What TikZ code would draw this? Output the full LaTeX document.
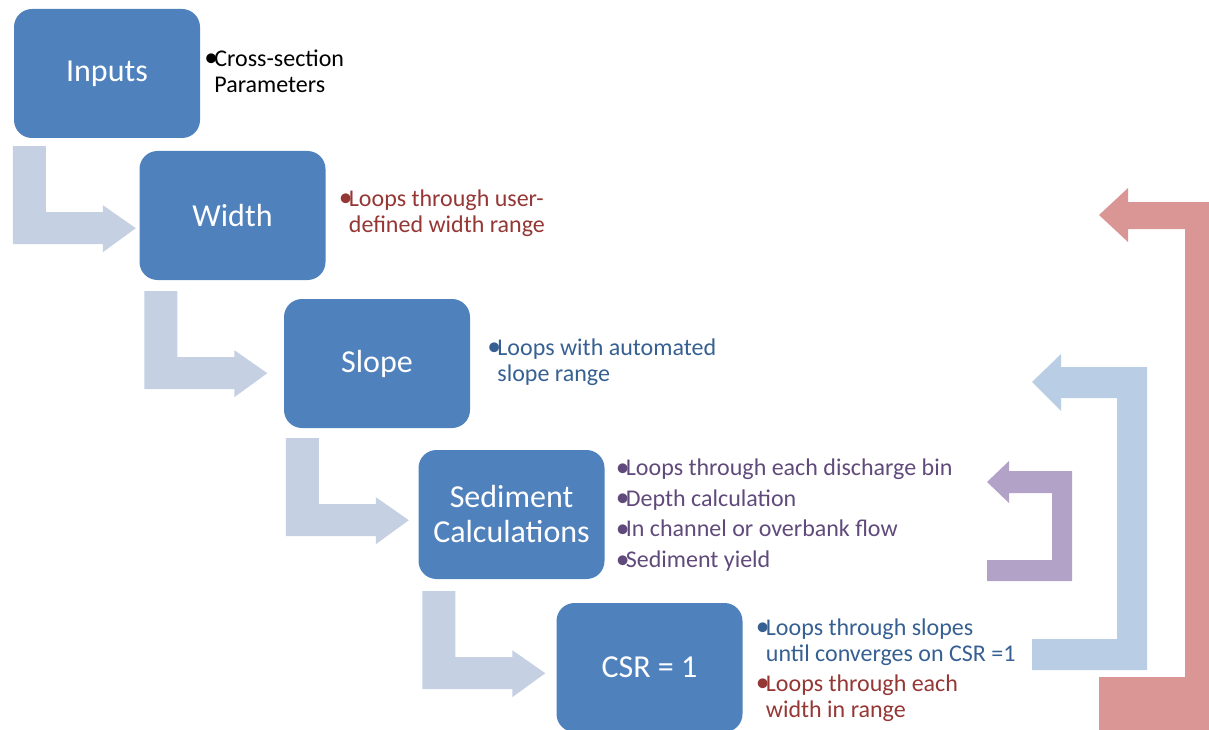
\documentclass[tikz,border=0pt]{standalone}
\usepackage{fontspec}
\setmainfont{Carlito}
\usetikzlibrary{calc}

\definecolor{boxblue}{HTML}{4F81BD}
\definecolor{elbowgray}{HTML}{C5D0E3}
\definecolor{loopblue}{HTML}{B9CDE5}
\definecolor{looppurple}{HTML}{B3A2C7}
\definecolor{loopred}{HTML}{D99694}
\definecolor{notered}{HTML}{953735}
\definecolor{noteblue}{HTML}{376092}
\definecolor{notepurple}{HTML}{604A7B}

\newcommand{\bul}{\makebox[10pt][l]{\raisebox{-0.7pt}{\scalebox{1.15}{\textbullet}}}}
\newcommand{\ind}{\hspace*{10pt}}
% bent arrow from the lower left corner of one stage to the next stage
\newcommand{\stagearrow}[1]{\fill[elbow] (#1) -- ++(33,0) -- ++(0,66) -- ++(57,0) -- ++(0,-7)
  -- ++(33,23) -- ++(-33,24) -- ++(0,-8) -- ++(-90,0) -- cycle;}

\begin{document}
\begin{tikzpicture}[x=1pt,y=-1pt,
    stage/.style={rectangle, rounded corners=18pt, fill=boxblue, text=white,
      minimum width=186pt, minimum height=129pt, inner sep=0pt, align=center,
      font=\fontsize{32}{35}\selectfont},
    note/.style={anchor=west, align=left, inner sep=0pt, font=\fontsize{24}{26}\selectfont},
    elbow/.style={fill=elbowgray}]
  \clip (0,0) rectangle (1209,730);

  \node (inputs) [stage] at (107,73.5) {Inputs};
  \node (width) [stage] at (232.5,215.5) {Width};
  \node (slope) [stage] at (377,363.5) {Slope};
  \node (sediment) [stage] at (511.5,514.5) {Sediment\\Calculations};
  \node (csr) [stage] at (649.5,667.5) {CSR = 1};

  \stagearrow{[shift={(-1,8)}]inputs.south west}
  \stagearrow{[shift={(5,11)}]width.south west}
  \stagearrow{[shift={(2,10)}]slope.south west}
  \stagearrow{[shift={(4,12)}]sediment.south west}

  \node (inputsnote) [note, text=black] at ([shift={(4,-2.5)}]inputs.east)
    {\bul Cross-section\\\ind Parameters};
  \node (widthnote) [note, text=notered] at ([shift={(13,-2.5)}]width.east)
    {\bul Loops through user-\\\ind defined width range};
  \node (slopenote) [note, text=noteblue] at ([shift={(17,-1.5)}]slope.east)
    {\bul Loops with automated\\\ind slope range};
  \node (sedimentnote) [note, text=notepurple, font=\fontsize{24}{30.7}\selectfont]
    at ([shift={(11,0.5)}]sediment.east)
    {\bul Loops through each discharge bin\\\bul Depth calculation\\
     \bul In channel or overbank flow\\\bul Sediment yield};
  \node (csrnote) [note] at ([shift={(13,2.5)}]csr.east)
    {\color{noteblue}\bul Loops through slopes\\\color{noteblue}\ind until converges on CSR =1\\[4pt]
     \color{notered}\bul Loops through each\\\color{notered}\ind width in range};

  % loop arrows on the right
  \fill[looppurple] (987,482) -- (1009,461) -- (1009,471) -- (1072,471) -- (1072,581)
    -- (987,581) -- (987,560) -- (1052,560) -- (1052,493) -- (1009,493) -- (1009,503) -- cycle;
  \fill[loopblue] (1032,382) -- (1061,354) -- (1061,367) -- (1147,367) -- (1147,670)
    -- (1032,670) -- (1032,639) -- (1117,639) -- (1117,398) -- (1061,398) -- (1061,411) -- cycle;
  \fill[loopred] (1099,215) -- (1128,188) -- (1128,202) -- (1212,202) -- (1212,740)
    -- (1099,740) -- (1099,677) -- (1185,677) -- (1185,229) -- (1128,229) -- (1128,242) -- cycle;
\end{tikzpicture}
\end{document}
